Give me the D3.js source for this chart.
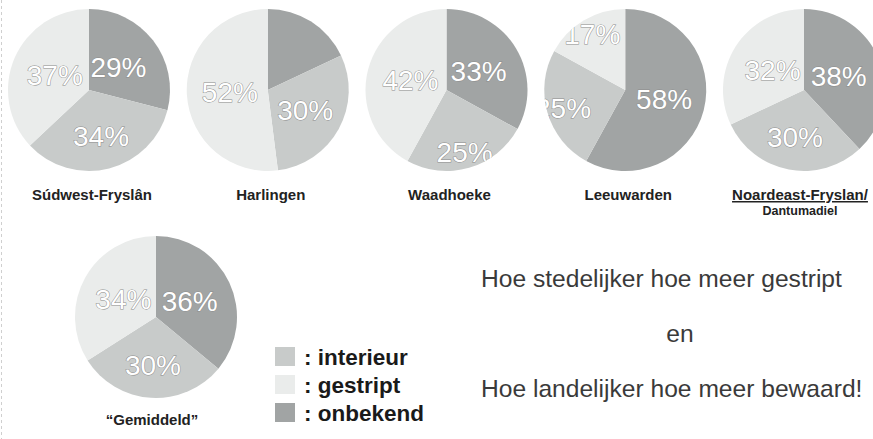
<!DOCTYPE html>
<html>
<head>
<meta charset="utf-8">
<script src="https://cdn.jsdelivr.net/npm/d3@7"></script>
<style>
  html, body { margin: 0; padding: 0; background: #fff; }
  svg { display: block; }
</style>
</head>
<body>
<svg id="chart" width="873" height="439"></svg>
<script>
// ---- data ----
const regions = ["Súdwest-Fryslân", "Harlingen", "Waadhoeke", "Leeuwarden", "Noardeast-Fryslan/", "\u201cGemiddeld\u201d"];
const subtitles = ["", "", "", "", "Dantumadiel", ""];
const categories = ["onbekend", "interieur", "gestript"];
const onbekend  = [29, 18, 33, 58, 38, 36];
const interieur = [34, 30, 25, 25, 30, 30];
const gestript  = [37, 52, 42, 17, 32, 34];
const hiddenLabels = ["Harlingen|onbekend"];
const legendOrder = ["interieur", "gestript", "onbekend"];
const noteLines = ["Hoe stedelijker hoe meer gestript", "en", "Hoe landelijker hoe meer bewaard!"];

// ---- styles ----
const color = d3.scaleOrdinal().domain(categories).range(["#a1a4a4", "#c8cbca", "#eaeceb"]);
const svg = d3.select("#chart");
const R = 81;

// left dotted border (scan edge)
svg.append("line").attr("x1", 1.5).attr("x2", 1.5).attr("y1", 0).attr("y2", 439)
  .attr("stroke", "#cfcfcf").attr("stroke-dasharray", "3,3").attr("stroke-width", 1);

const series = { onbekend, interieur, gestript };
const pies = regions.map((name, i) => ({
  name, sub: subtitles[i], idx: i,
  slices: categories.map(c => ({ cat: c, value: series[c][i] }))
}));

const xTop = d3.scalePoint().domain(regions.slice(0, 5)).range([89, 804]);
const pos = (p) => p.idx < 5 ? [xTop(p.name), 90] : [156, 317];

const pie = d3.pie().sort(null).value(d => d.value);
const arc = d3.arc().innerRadius(0).outerRadius(R);

const defs = svg.append("defs");

pies.forEach(p => {
  const [cx, cy] = pos(p);
  const g = svg.append("g").attr("transform", `translate(${cx},${cy})`);
  const arcs = pie(p.slices);
  g.selectAll("path").data(arcs).join("path")
    .attr("d", arc)
    .attr("fill", d => color(d.data.cat));

  const clipId = "clip" + p.idx;
  defs.append("clipPath").attr("id", clipId).append("circle").attr("cx", 0).attr("cy", 0).attr("r", R);

  const lg = g.append("g").attr("clip-path", `url(#${clipId})`);
  lg.selectAll("text").data(arcs.filter(a => !hiddenLabels.includes(p.name + "|" + a.data.cat)))
    .join("text")
    .attr("transform", a => {
      const mid = (a.startAngle + a.endAngle) / 2;
      const k = a.data.value < 28 ? 0.8 : 0.46 + 0.14 * Math.max(0, -Math.cos(mid));
      const c = d3.arc().innerRadius(R * k).outerRadius(R * k).centroid(a);
      return `translate(${c[0]},${c[1]})`;
    })
    .attr("text-anchor", "middle")
    .attr("dominant-baseline", "central")
    .attr("font-family", "'Liberation Sans', Arial, sans-serif")
    .attr("font-size", 28)
    .attr("fill", "#ffffff")
    .attr("stroke", "#8c8c8c")
    .attr("stroke-width", 1)
    .attr("paint-order", "stroke")
    .text(a => a.data.value + "%");

  const lab = svg.append("text")
    .attr("x", cx + (p.idx < 4 ? 3 : -4))
    .attr("y", p.idx < 5 ? 200 : 425)
    .attr("text-anchor", "middle")
    .attr("font-family", "'Liberation Sans', Arial, sans-serif")
    .attr("font-weight", "bold")
    .attr("font-size", 15)
    .attr("fill", "#222")
    .text(p.name);
  if (p.sub) {
    lab.attr("text-decoration", "underline");
    svg.append("text")
      .attr("x", cx - 4).attr("y", 215)
      .attr("text-anchor", "middle")
      .attr("font-family", "'Liberation Sans', Arial, sans-serif")
      .attr("font-weight", "bold")
      .attr("font-size", 12.5)
      .attr("fill", "#222")
      .text(p.sub);
  }
});

// ---- legend ----
const yLeg = d3.scalePoint().domain(legendOrder).range([357, 413]);
const leg = svg.append("g");
legendOrder.forEach(c => {
  leg.append("rect").attr("x", 275).attr("y", yLeg(c) - 10).attr("width", 20).attr("height", 19)
    .attr("fill", color(c));
  leg.append("text").attr("x", 304).attr("y", yLeg(c) + 8)
    .attr("font-family", "'Liberation Sans', Arial, sans-serif")
    .attr("font-weight", "bold").attr("font-size", 22.5).attr("fill", "#1a1a1a")
    .text(": " + c);
});

// ---- note ----
const yNote = d3.scalePoint().domain(noteLines).range([287, 397]);
noteLines.forEach((t, i) => {
  svg.append("text")
    .attr("x", i === 1 ? 680 : 481)
    .attr("y", yNote(t))
    .attr("text-anchor", i === 1 ? "middle" : "start")
    .attr("font-family", "'Liberation Sans', Arial, sans-serif")
    .attr("font-size", 24.6)
    .attr("fill", "#3a3a3a")
    .text(t);
});
</script>
</body>
</html>
